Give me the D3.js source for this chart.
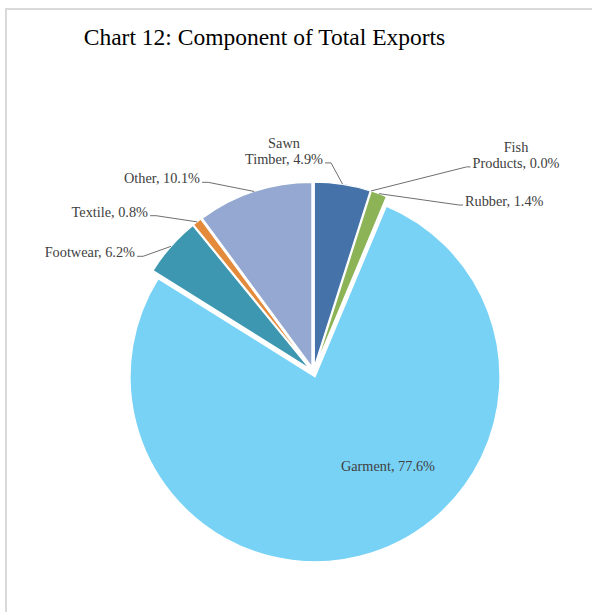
<!DOCTYPE html>
<html>
<head>
<meta charset="utf-8">
<script src="https://cdn.jsdelivr.net/npm/d3@7"></script>
<style>
  html, body { margin: 0; padding: 0; background: #fff; }
  svg { display: block; }
  text { font-family: "Liberation Serif", "Times New Roman", serif; }
</style>
</head>
<body>
<svg id="chart" width="592" height="612"></svg>
<script>
// ---- data ----
const title = "Chart 12: Component of Total Exports";
const categories = ["Sawn Timber", "Fish Products", "Rubber", "Garment", "Footwear", "Textile", "Other"];
const shares = [4.9, 0.0, 1.4, 77.6, 5.2, 0.8, 10.1];
const labelTexts = [
  ["Sawn", "Timber, 4.9%"],
  ["Fish", "Products, 0.0%"],
  ["Rubber, 1.4%"],
  ["Garment, 77.6%"],
  ["Footwear, 6.2%"],
  ["Textile, 0.8%"],
  ["Other, 10.1%"]
];

// ---- style / layout ----
const colors = ["#4472a9", "#a5a5a5", "#8cb356", "#78d2f6", "#3d97b0", "#e38a3b", "#94a8d2"];
// label anchor position, text anchor, which side the leader attaches to (null = no leader)
const labelLayout = [
  { x: 284, y: 147.5, anchor: "middle", side: "right" },
  { x: 516, y: 151.5, anchor: "middle", side: "left" },
  { x: 465, y: 206, anchor: "start", side: "left" },
  { x: 388, y: 470.7, anchor: "middle", side: null },
  { x: 135, y: 257.3, anchor: "end", side: "right" },
  { x: 148, y: 216.7, anchor: "end", side: "right" },
  { x: 200, y: 183.3, anchor: "end", side: "right" }
];
const cx = 313.5, cy = 372, R = 185, explode = 5;

const svg = d3.select("#chart");

// frame
svg.append("rect")
  .attr("x", 6).attr("y", 9).attr("width", 620).attr("height", 640)
  .attr("fill", "#fff").attr("stroke", "#d9d9d9").attr("stroke-width", 2);

// title
svg.append("text")
  .attr("x", 264.5).attr("y", 45)
  .attr("text-anchor", "middle")
  .attr("font-size", 23.5)
  .attr("fill", "#000")
  .text(title);

const pie = d3.pie().sort(null).value(d => d)(shares);
const arc = d3.arc().innerRadius(0).outerRadius(R);

const offset = d => {
  const m = (d.startAngle + d.endAngle) / 2;
  return [explode * Math.sin(m), -explode * Math.cos(m)];
};

const g = svg.append("g").attr("transform", `translate(${cx},${cy})`);

g.selectAll("path.slice")
  .data(pie)
  .join("path")
  .attr("class", "slice")
  .attr("d", arc)
  .attr("transform", d => `translate(${offset(d)[0]},${offset(d)[1]})`)
  .attr("fill", (d, i) => colors[i])
  .attr("stroke", "#fff")
  .attr("stroke-width", d => d.value > 0 ? 1.3 : 0);

// labels
const lblG = svg.append("g");
pie.forEach((d, i) => {
  const L = labelLayout[i];
  const t = lblG.append("text")
    .attr("x", L.x).attr("y", L.y)
    .attr("text-anchor", L.anchor)
    .attr("font-size", 14.3)
    .attr("fill", "#404040");
  labelTexts[i].forEach((line, k) => {
    t.append("tspan").attr("x", L.x).attr("dy", k === 0 ? 0 : 16.4).text(line);
  });
  if (!L.side) return;
  // leader line: from the last line edge, short horizontal, then to slice outer edge at mid-angle
  const lastSpan = t.selectAll("tspan").nodes().pop();
  const bb = lastSpan.getBBox();
  const ly = L.y + (labelTexts[i].length - 1) * 16.4 - 1;
  const lx = L.side === "right" ? bb.x + bb.width + 2 : bb.x - 2;
  const ex = L.side === "right" ? lx + 6 : lx - 4;
  const m = (d.startAngle + d.endAngle) / 2;
  const o = offset(d);
  const px = cx + o[0] + R * Math.sin(m);
  const py = cy + o[1] - R * Math.cos(m);
  lblG.append("path")
    .attr("d", d3.line()([[lx, ly], [ex, ly], [px, py]]))
    .attr("fill", "none")
    .attr("stroke", "#6f6f6f")
    .attr("stroke-width", 1);
});
</script>
</body>
</html>
